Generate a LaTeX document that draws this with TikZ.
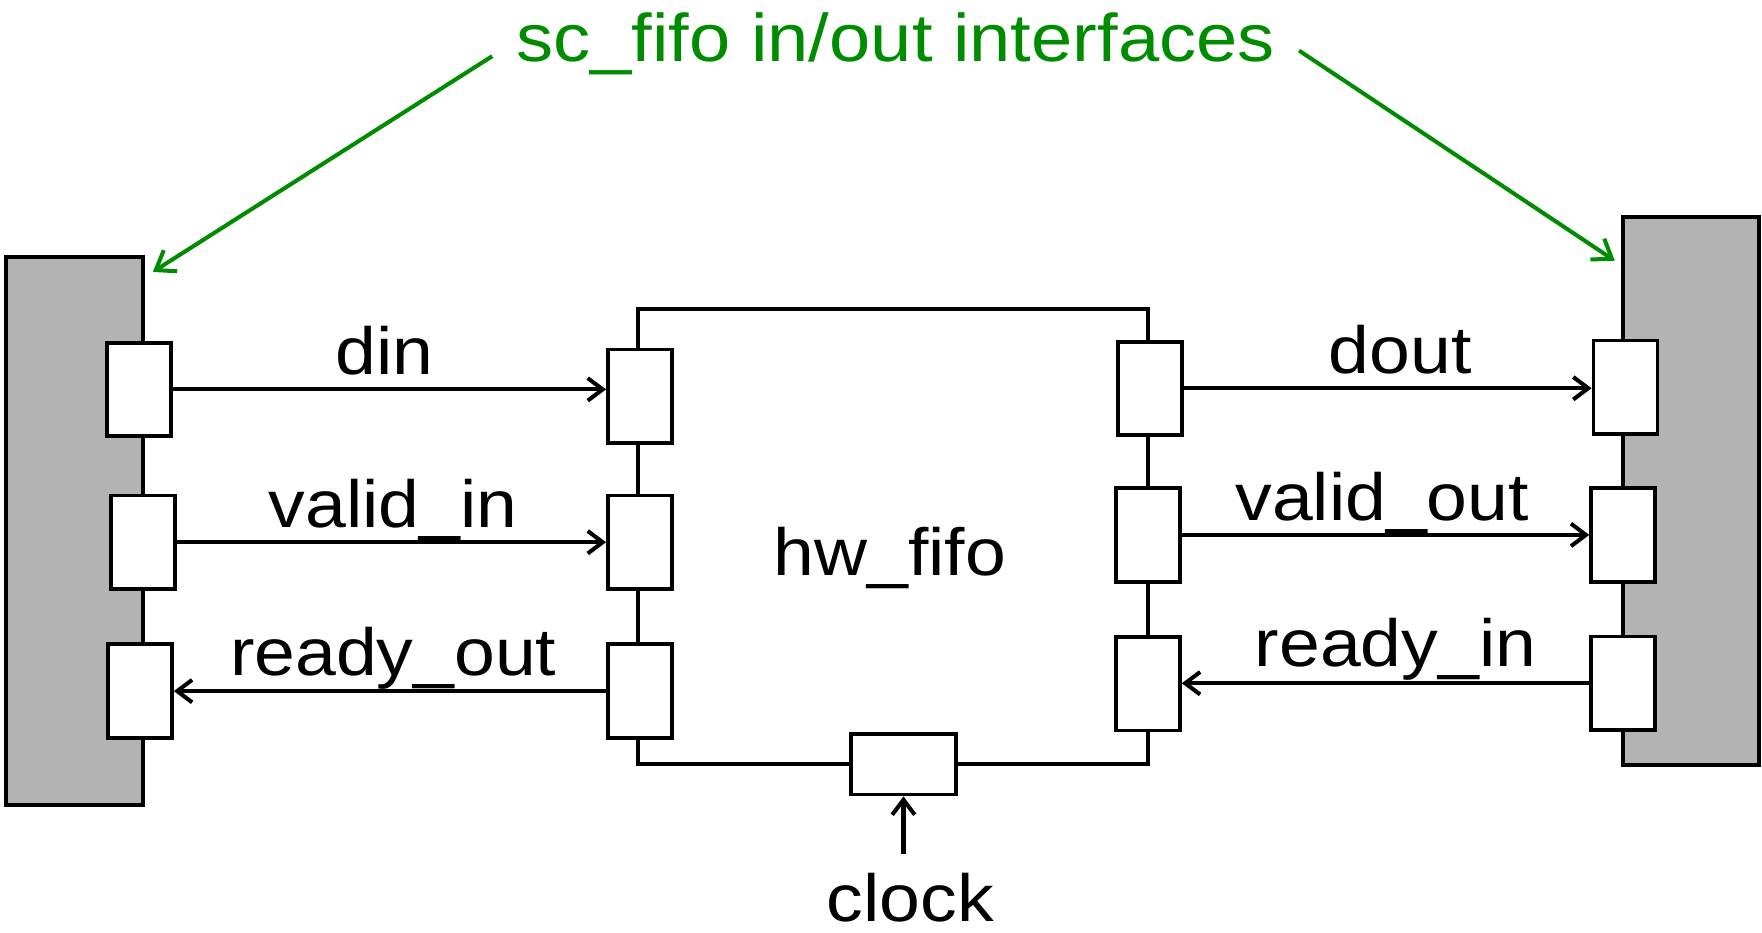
\documentclass[tikz,border=0pt]{standalone}
\usepackage{fontspec}
\setmainfont[FakeStretch=1.1]{Liberation Sans}
\usetikzlibrary{arrows.meta}
\definecolor{ggreen}{HTML}{008C00}
\definecolor{blockgray}{HTML}{B3B3B3}
\begin{document}
\begin{tikzpicture}[x=0.0225cm,y=-0.0225cm,
  port/.style={draw, fill=white, line width=2.2pt, minimum width=1.28cm, minimum height=1.87cm, inner sep=0pt},
  gblock/.style={draw, fill=blockgray, line width=2.2pt, inner sep=0pt},
  sig/.style={line width=2.3pt, -{Straight Barb[length=0.3cm,width=0.45cm,line width=2.3pt]}},
  lbl/.style={anchor=base, inner sep=0pt, font=\fontsize{38}{44}\selectfont},
  glbl/.style={lbl, text=ggreen},
  garrow/.style={draw=ggreen, line width=2.3pt, -{Straight Barb[length=0.35cm,width=0.5cm,line width=2.3pt]}}
]
\useasboundingbox (0,0) rectangle (1568,830);
% interface blocks
\node[gblock, minimum width=2.745cm, minimum height=10.96cm] (lblock) at (66,472.5) {};
\node[gblock, minimum width=2.72cm, minimum height=10.98cm] (rblock) at (1505,437) {};
% fifo body
\node[draw, line width=2.2pt, minimum width=10.215cm, minimum height=9.11cm, inner sep=0pt] (fifo) at (795,477.5) {};
\node[lbl] (hwlbl) at (792,512) {hw\_fifo};
% ports on left block
\node[port] (P1) at (123.5,346.5) {};
\node[port] (P2) at (127.5,482.5) {};
\node[port] (P3) at (124.5,615) {};
% ports on fifo left
\node[port] (F1) at (569.5,352.5) {};
\node[port] (F2) at (569.5,482.5) {};
\node[port] (F3) at (569.5,615) {};
% ports on fifo right
\node[port] (R1) at (1023.5,345.5) {};
\node[port] (R2) at (1021.5,476) {};
\node[port] (R3) at (1021.5,608.5) {};
% ports on right block
\node[port] (G1) at (1446.5,344.5) {};
\node[port] (G2) at (1444.5,476) {};
\node[port] (G3) at (1444.5,608) {};
% clock port
\node[port, minimum width=2.115cm, minimum height=1.215cm] (clk) at (804,680) {};
% signals
\draw[sig] (P1.east) -- (P1.east -| F1.west);
\draw[sig] (P2.east) -- (P2.east -| F2.west);
\draw[sig] (F3.west) -- (F3.west -| P3.east);
\draw[sig] (R1.east) -- (R1.east -| G1.west);
\draw[sig] (R2.east) -- (R2.east -| G2.west);
\draw[sig] (G3.west) -- (G3.west -| R3.east);
\coordinate (clkin) at (804,760);
\draw[sig] (clkin) -- (clk.south);
% labels
\node[lbl] (ldin) at (342,333) {din};
\node[lbl] (lvin) at (350,469) {valid\_in};
\node[lbl] (lrout) at (350,601) {ready\_out};
\node[lbl] (ldout) at (1246,332) {dout};
\node[lbl] (lvout) at (1230,463) {valid\_out};
\node[lbl] (lrin) at (1242,593.5) {ready\_in};
\node[lbl] (lclk) at (810,820) {clock};
% title and green arrows
\node[glbl, font=\fontsize{38.4}{44}\selectfont] (title) at (797,55) {sc\_fifo in/out interfaces};
\coordinate (gl1) at (438,50);
\coordinate (gl2) at (136,242);
\coordinate (gr1) at (1156,45);
\coordinate (gr2) at (1437,232);
\draw[garrow] (gl1) -- (gl2);
\draw[garrow] (gr1) -- (gr2);
\end{tikzpicture}
\end{document}
